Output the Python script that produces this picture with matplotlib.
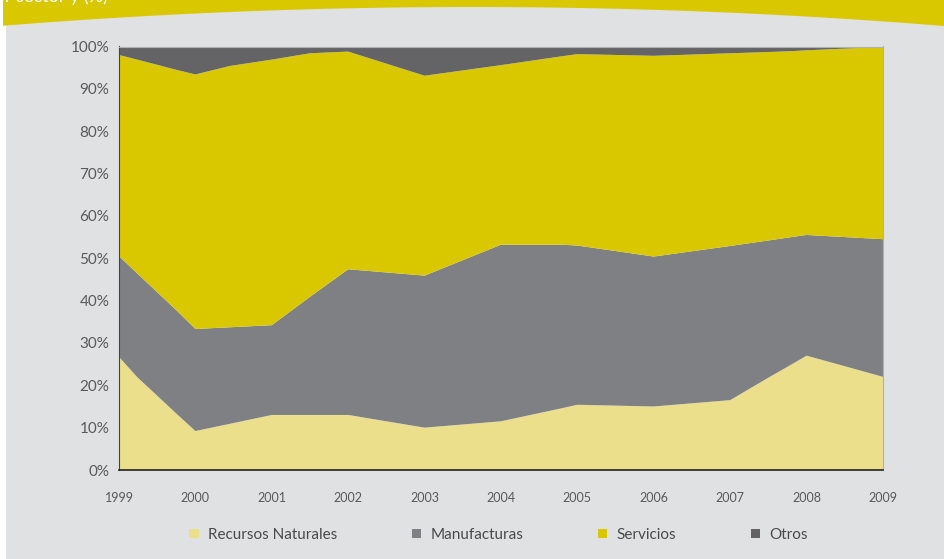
import matplotlib
matplotlib.use("Agg")
import matplotlib.pyplot as plt
import numpy as np
from matplotlib.patches import Patch, Rectangle, Polygon

# Data (shares, %)
x_years = [1999, 1999.24, 1999.77, 2000, 2000.45, 2001, 2001.5, 2002, 2003,
           2004, 2004.8, 2005, 2006, 2007, 2007.5, 2007.8, 2008, 2009]
recursos = [26.7, 21.9, 13.0, 9.2, 10.9, 13.0, 13.0, 13.0, 10.0,
            11.5, 14.6, 15.4, 15.0, 16.5, 21.8, 24.9, 27.0, 22.0]
manufacturas = [23.8, 24.5, 24.4, 24.1, 22.8, 21.2, 27.9, 34.4, 35.9,
                41.7, 38.6, 37.6, 35.4, 36.4, 32.4, 30.1, 28.5, 32.5]
servicios = [47.5, 50.5, 57.0, 60.1, 61.7, 62.7, 57.5, 51.4, 47.2,
             42.4, 44.5, 45.2, 47.4, 45.5, 44.5, 43.9, 43.6, 45.4]
otros = [2.0, 3.1, 5.6, 6.6, 4.6, 3.1, 1.6, 1.2, 6.9,
         4.4, 2.3, 1.8, 2.2, 1.6, 1.3, 1.1, 0.9, 0.1]

series_labels = ["Recursos Naturales", "Manufacturas", "Servicios", "Otros"]
series_colors = ["#ebdf8b", "#7f8084", "#d9c700", "#646466"]
tick_years = list(range(1999, 2010))
y_ticks = list(range(0, 101, 10))

W, H = 944, 559
fig = plt.figure(figsize=(W / 100, H / 100), dpi=100, facecolor="white")

# background panel
bg = "#e0e1e3"
fig.patches.append(Rectangle((6 / W, 0), 1 - 6 / W, 1, transform=fig.transFigure,
                             facecolor=bg, edgecolor="none", zorder=-10))
# yellow header with curved bottom edge
xs = np.linspace(3, W, 200)
t = (xs - 472) / 472.0
ys_top = 7 + 19 * t ** 2
pts = [(3 / W, 1.0)] + [(xx / W, 1 - yy / H) for xx, yy in zip(xs, ys_top)] + [(1.0, 1.0)]
fig.patches.append(Polygon(pts, closed=True, transform=fig.transFigure,
                           facecolor="#d9c700", edgecolor="none", zorder=-9))
fig.text(108 / W, 1 - 2 / H, "Exportaciones por sector y (%)", color="white",
         fontsize=13, family="Lato", ha="right", va="baseline")

ax = fig.add_axes([119 / W, 89 / H, 764 / W, 423.5 / H])
ax.stackplot(x_years, recursos, manufacturas, servicios, otros,
             colors=series_colors, linewidth=0)
ax.set_xlim(1999, 2009)
ax.set_ylim(0, 100)
ax.set_yticks(y_ticks)
ax.set_yticklabels([f"{v}%" for v in y_ticks])
ax.set_xticks(tick_years)
ax.set_xticklabels([str(y) for y in tick_years])
ax.tick_params(axis="y", length=0, pad=7, labelsize=11, labelcolor="#595959")
ax.tick_params(axis="x", length=0, pad=16, labelsize=9, labelcolor="#595959")
for lab in ax.get_xticklabels() + ax.get_yticklabels():
    lab.set_family("Lato")
for side in ["top", "right"]:
    ax.spines[side].set_color("#b0b0b0")
    ax.spines[side].set_linewidth(0.8)
ax.spines["left"].set_color("#444444")
ax.spines["bottom"].set_color("#222222")
ax.spines["bottom"].set_linewidth(1.2)
ax.set_facecolor("white")

handles = [Patch(facecolor=c, edgecolor="none") for c in series_colors]
leg = fig.legend(handles, series_labels, loc="center", bbox_to_anchor=(0.528, 1 - 535 / H),
                 ncol=4, frameon=False, handlelength=0.6, handleheight=0.6,
                 handletextpad=0.6, columnspacing=4.9,
                 prop={"family": "Lato", "size": 11})
for txt in leg.get_texts():
    txt.set_color("#4a4a4a")

fig.savefig("out.png", dpi=100, facecolor=fig.get_facecolor())
